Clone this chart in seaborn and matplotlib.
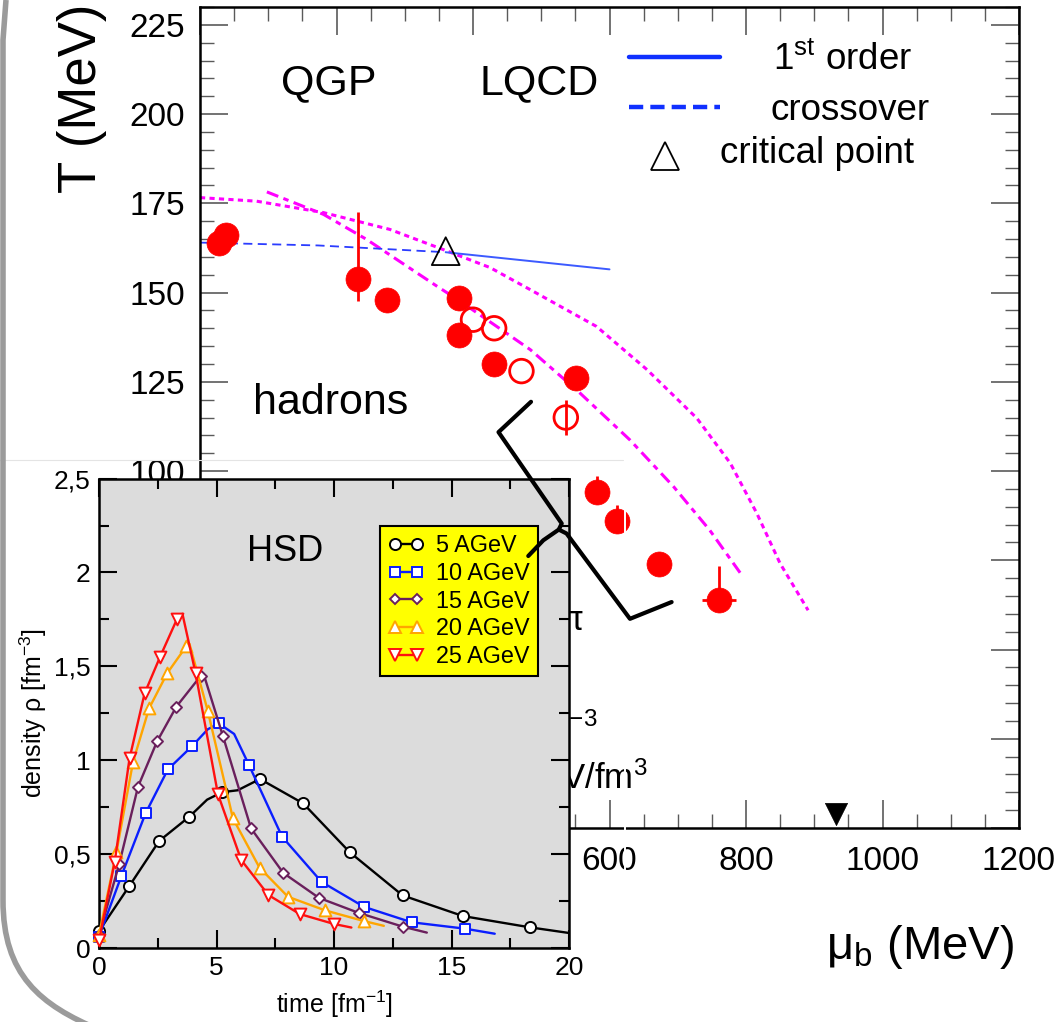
import numpy as np
import pandas as pd
import matplotlib
matplotlib.use("Agg")
import matplotlib.pyplot as plt
import seaborn as sns
from matplotlib.lines import Line2D
from matplotlib.path import Path
from matplotlib.patches import PathPatch
from matplotlib.ticker import MultipleLocator, FixedLocator, FuncFormatter

# ---------------- main phase diagram data ----------------
mu_filled = [28, 38, 231, 274, 380, 380, 431, 551, 581, 611, 672, 761]
T_filled = [164, 166, 153.8, 148, 148.5, 138, 130, 126, 94, 86, 74, 64]
T_filled_err_lo = [0, 0, 6.2, 0, 0, 0, 0, 0, 0, 0, 0, 0]
T_filled_err_hi = [0, 0, 18.7, 0, 0, 0, 0, 0, 4.5, 4.5, 0, 9.4]
mu_filled_err = [0, 0, 0, 0, 0, 0, 0, 0, 0, 0, 0, 25]

mu_open = [400, 431, 471, 536]
T_open = [142.4, 140, 128, 115]
T_open_err = [0, 0, 0, 5]

mu_cp = [360]
T_cp = [161.6]

mu_cross = [0, 173, 360]
T_cross = [164, 163.2, 161.3]
mu_first = [360, 600]
T_first = [161.3, 156.5]

mu_dot = [0, 83, 181, 278, 357, 425, 484, 581, 655, 728, 777, 816, 850, 891]
T_dot = [176.6, 175.6, 172.4, 167.7, 162, 157, 150.8, 140.5, 128.4, 114.8, 102.2, 88.1, 74.1, 61]

mu_dashdot = [98, 181, 244, 303, 347, 381, 484, 557, 630, 694, 747, 794]
T_dashdot = [178.2, 171.9, 164.9, 157.4, 151.8, 147.6, 134, 121.8, 108.7, 95.6, 83.4, 70.8]

mu_nucleon = [932]
T_nucleon = [4]

# ---------------- inset (HSD) data ----------------
labels_hsd = ["5 AGeV", "10 AGeV", "15 AGeV", "20 AGeV", "25 AGeV"]

t5_line = [0, 1.29, 2.56, 3.85, 4.6, 5.24, 5.9, 6.85, 8.69, 10.67, 12.92, 15.49, 18.34, 20]
r5_line = [0.09, 0.33, 0.57, 0.70, 0.79, 0.83, 0.84, 0.90, 0.77, 0.51, 0.28, 0.17, 0.11, 0.08]
t5_mk = [0, 1.29, 2.56, 3.85, 5.24, 6.85, 8.69, 10.67, 12.92, 15.49, 18.34]
r5_mk = [0.09, 0.33, 0.57, 0.70, 0.83, 0.90, 0.77, 0.51, 0.28, 0.17, 0.11]

t10_line = [0, 0.95, 1.98, 2.93, 3.96, 4.63, 5.1, 5.75, 6.38, 7.79, 9.47, 11.28, 13.3, 15.57, 16.84]
r10_line = [0.06, 0.383, 0.717, 0.951, 1.075, 1.165, 1.196, 1.14, 0.975, 0.593, 0.352, 0.219, 0.137, 0.103, 0.076]
t10_mk = [0, 0.95, 1.98, 2.93, 3.96, 5.1, 6.38, 7.79, 9.47, 11.28, 13.3, 15.57]
r10_mk = [0.06, 0.383, 0.717, 0.951, 1.075, 1.196, 0.975, 0.593, 0.352, 0.219, 0.137, 0.103]

t15_line = [0, 0.86, 1.66, 2.47, 3.29, 4.32, 4.45, 5.27, 6.47, 7.84, 9.36, 11.05, 12.92, 13.95]
r15_line = [0.07, 0.447, 0.859, 1.10, 1.285, 1.448, 1.46, 1.13, 0.637, 0.40, 0.267, 0.187, 0.114, 0.082]
t15_mk = [0, 0.86, 1.66, 2.47, 3.29, 4.32, 5.27, 6.47, 7.84, 9.36, 11.05, 12.92]
r15_mk = [0.07, 0.447, 0.859, 1.10, 1.285, 1.448, 1.13, 0.637, 0.40, 0.267, 0.187, 0.114]

t20_line = [0, 0.74, 1.45, 2.13, 2.9, 3.72, 3.85, 4.63, 5.7, 6.83, 8.04, 9.63, 11.29, 12.12]
r20_line = [0.07, 0.51, 0.992, 1.276, 1.463, 1.608, 1.62, 1.262, 0.69, 0.428, 0.273, 0.20, 0.143, 0.118]
t20_mk = [0, 0.74, 1.45, 2.13, 2.9, 3.72, 4.63, 5.7, 6.83, 8.04, 9.63, 11.29]
r20_mk = [0.07, 0.51, 0.992, 1.276, 1.463, 1.608, 1.262, 0.69, 0.428, 0.273, 0.20, 0.143]

t25_line = [0, 0.67, 1.30, 1.94, 2.6, 3.32, 3.55, 4.11, 5.06, 6.05, 7.21, 8.54, 10.0, 10.74]
r25_line = [0.04, 0.46, 1.01, 1.356, 1.551, 1.752, 1.78, 1.463, 0.82, 0.469, 0.282, 0.181, 0.128, 0.109]
t25_mk = [0, 0.67, 1.30, 1.94, 2.6, 3.32, 4.11, 5.06, 6.05, 7.21, 8.54, 10.0]
r25_mk = [0.04, 0.46, 1.01, 1.356, 1.551, 1.752, 1.463, 0.82, 0.469, 0.282, 0.181, 0.128]

# ---------------- style ----------------
sns.set_theme(style="ticks")
plt.rcParams['font.family'] = ['Liberation Sans', 'DejaVu Sans']
plt.rcParams['mathtext.fontset'] = 'custom'
plt.rcParams['mathtext.rm'] = 'Liberation Sans'
plt.rcParams['mathtext.it'] = 'Liberation Sans:italic'
plt.rcParams['mathtext.bf'] = 'Liberation Sans:bold'
plt.rcParams['text.color'] = 'black'
plt.rcParams['axes.labelcolor'] = 'black'
plt.rcParams['xtick.labelcolor'] = 'black'
plt.rcParams['ytick.labelcolor'] = 'black'

W, H = 1062, 1022
fig = plt.figure(figsize=(W / 100, H / 100), dpi=100)
fig.patch.set_facecolor('white')


def fx(px):
    return px / W


def fy(py):
    return 1 - py / H


# ---------------- main axes ----------------
ax = fig.add_axes([fx(200), fy(828), fx(1019) - fx(200), fy(7) - fy(828)])
ax.set_facecolor('white')

sns.lineplot(x=mu_dot, y=T_dot, ax=ax, color='#ff00ff', lw=2.2,
             linestyle=(0, (1.7, 1.4)), sort=False, estimator=None, zorder=2)
sns.lineplot(x=mu_dashdot, y=T_dashdot, ax=ax, color='#ff00ff', lw=2.2,
             linestyle=(0, (4, 1.8, 1.8, 1.8)), sort=False, estimator=None, zorder=2)
sns.lineplot(x=mu_cross, y=T_cross, ax=ax, color='#2b3cff', lw=1.3,
             linestyle=(0, (5, 3)), sort=False, estimator=None, zorder=2)
sns.lineplot(x=mu_first, y=T_first, ax=ax, color='#3c5aff', lw=1.4,
             sort=False, estimator=None, zorder=2)

ax.errorbar(mu_filled, T_filled, yerr=[T_filled_err_lo, T_filled_err_hi],
            xerr=mu_filled_err, fmt='none', ecolor='#ff0000', elinewidth=2,
            capsize=0, zorder=3)
ax.errorbar(mu_open, T_open, yerr=T_open_err, fmt='none', ecolor='#ff0000',
            elinewidth=2, capsize=0, zorder=3)
sns.scatterplot(x=mu_filled, y=T_filled, ax=ax, marker='o', s=18 ** 2,
                color='#ff0000', edgecolor='#ff0000', linewidth=0.5, zorder=4)
sns.scatterplot(x=mu_open, y=T_open, ax=ax, marker='o', s=17 ** 2,
                facecolor='none', edgecolor='#ff0000', linewidth=2, zorder=4)
sns.scatterplot(x=mu_cp, y=T_cp, ax=ax, marker='^', s=20 ** 2,
                facecolor='none', edgecolor='black', linewidth=1.3, zorder=5)
sns.scatterplot(x=mu_nucleon, y=T_nucleon, ax=ax, marker='v', s=16 ** 2,
                color='black', edgecolor='black', linewidth=0.5, zorder=5,
                clip_on=False)

ax.set_xlim(0, 1200)
ax.set_ylim(0, 230)
ax.xaxis.set_major_locator(MultipleLocator(200))
ax.xaxis.set_minor_locator(MultipleLocator(50))
ax.yaxis.set_major_locator(MultipleLocator(25))
ax.yaxis.set_minor_locator(MultipleLocator(5))
ax.tick_params(which='major', direction='in', length=20, width=1.2,
               color='#5a5a5a', top=True, right=True, labelsize=24)
ax.tick_params(which='minor', direction='in', length=10, width=1.0,
               color='#5a5a5a', top=True, right=True)
ax.tick_params(axis='x', which='major', pad=13)
ax.tick_params(axis='y', which='major', pad=11)
for sp in ax.spines.values():
    sp.set_linewidth(1.8)
    sp.set_color('black')

ax.set_ylabel('T (MeV)', fontsize=38)
ax.yaxis.label.set_va('center')
ax.yaxis.set_label_coords(-0.144, 0.889)
ax.set_xlabel('μ$_{\\mathrm{b}}$ (MeV)', fontsize=34)
ax.xaxis.label.set_va('center')
ax.xaxis.set_label_coords(0.879, -0.145)

# region labels
ax.text(0.1575, 0.9074, 'QGP', transform=ax.transAxes, fontsize=31,
        ha='center', va='center')
ax.text(0.414, 0.9074, 'LQCD', transform=ax.transAxes, fontsize=31,
        ha='center', va='center')
ax.text(0.160, 0.5177, 'hadrons', transform=ax.transAxes, fontsize=31,
        ha='center', va='center')

# hand-made legend of the main plot
ax.add_line(Line2D([0.524, 0.635], [0.939, 0.939], transform=ax.transAxes,
                   color='#1030ff', lw=3.2))
ax.add_line(Line2D([0.524, 0.635], [0.878, 0.878], transform=ax.transAxes,
                   color='#1030ff', lw=3.2, linestyle=(0, (3.2, 1.6))))
ax.add_line(Line2D([0.568], [0.8185], transform=ax.transAxes, marker='^',
                   ms=20, mfc='none', mec='black', mew=1.3, ls='none'))
ax.text(0.6996, 0.923, '1$^{\\mathrm{st}}$ order', transform=ax.transAxes,
        fontsize=26.5, ha='left', va='baseline')
ax.text(0.696, 0.8624, 'crossover', transform=ax.transAxes,
        fontsize=26.5, ha='left', va='baseline')
ax.text(0.6355, 0.810, 'critical point', transform=ax.transAxes,
        fontsize=26.5, ha='left', va='baseline')

# fragments of annotations hidden behind the inset
ax.text(527, 58, 'π', fontsize=25, ha='left', va='center', zorder=1)
ax.text(582, 24.7, 'fm$^{-3}$', fontsize=25, ha='right', va='baseline', zorder=1)
ax.text(655, 11, 'GeV/fm$^{3}$', fontsize=25, ha='right', va='baseline', zorder=1)

# ---------------- inset axes ----------------
axi = fig.add_axes([fx(99), fy(948), fx(569) - fx(99), fy(478.6) - fy(948)])
axi.set_zorder(5)
axi.set_facecolor('#dcdcdc')

series = [
    (labels_hsd[0], 'black', 'o', 8.0, t5_line, r5_line, t5_mk, r5_mk),
    (labels_hsd[1], '#0a1eff', 's', 6.8, t10_line, r10_line, t10_mk, r10_mk),
    (labels_hsd[2], '#6a1f5c', 'D', 5.6, t15_line, r15_line, t15_mk, r15_mk),
    (labels_hsd[3], '#ffa500', '^', 8.5, t20_line, r20_line, t20_mk, r20_mk),
    (labels_hsd[4], '#ff1010', 'v', 8.5, t25_line, r25_line, t25_mk, r25_mk),
]
handles = []
for i, (lab, col, mk, ms, tl, rl, tm, rm) in enumerate(series):
    sns.lineplot(x=tl, y=rl, ax=axi, color=col, lw=1.7, sort=False,
                 estimator=None, zorder=2 + 2 * i)
    sns.scatterplot(x=tm, y=rm, ax=axi, marker=mk, s=ms ** 2,
                    facecolor='white', edgecolor=col, linewidth=1.4,
                    zorder=3 + 2 * i, clip_on=False)
    handles.append(Line2D([], [], color=col, lw=1.7, marker=mk, ms=ms,
                          mfc='white', mec=col, mew=1.4))

axi.set_xlim(0, 20)
axi.set_ylim(0, 2.5)
axi.xaxis.set_major_locator(MultipleLocator(5))
axi.xaxis.set_minor_locator(MultipleLocator(2.5))
axi.yaxis.set_major_locator(FixedLocator([0, 0.5, 1, 1.5, 2, 2.5]))
axi.yaxis.set_minor_locator(FixedLocator([0.25, 0.75, 1.25, 1.75, 2.25]))
axi.yaxis.set_major_formatter(FuncFormatter(lambda v, p: f"{v:g}".replace('.', ',')))
axi.tick_params(which='major', direction='in', length=13, width=1.5,
                color='black', top=True, right=True, labelsize=19, pad=6)
axi.tick_params(which='minor', direction='in', length=7, width=1.5,
                color='black', top=True, right=True)
for sp in axi.spines.values():
    sp.set_linewidth(1.8)
    sp.set_color('black')

axi.set_ylabel('density ρ [fm$^{-3}$]', fontsize=18)
axi.yaxis.label.set_va('center')
axi.yaxis.set_label_coords(-0.14, 0.5)
axi.set_xlabel('time [fm$^{-1}$]', fontsize=18)
axi.xaxis.label.set_va('center')
axi.xaxis.set_label_coords(0.5, -0.121)

axi.text(7.92, 2.114, 'HSD', fontsize=26, ha='center', va='center')

leg = axi.legend(handles, labels_hsd, loc='upper left',
                 bbox_to_anchor=(0.597, 0.899), borderaxespad=0,
                 fontsize=16.8, numpoints=2, handlelength=1.55,
                 handletextpad=0.5, labelspacing=0.2, borderpad=0.35,
                 frameon=True, fancybox=False, framealpha=1)
leg.get_frame().set_facecolor('#ffff00')
leg.get_frame().set_edgecolor('black')
leg.get_frame().set_linewidth(1.5)

# ---------------- edge of the pasted inset picture ----------------
fig.add_artist(Line2D([fx(0), fx(623)], [fy(460), fy(460)], transform=fig.transFigure,
                      color='#e4e4e4', lw=0.8, zorder=3))
fig.add_artist(Line2D([fx(625), fx(625)], [fy(462), fy(1022)], transform=fig.transFigure,
                      color='white', lw=1.4, zorder=3))

# ---------------- curly bracket drawn over everything ----------------
brace_mu = [485, 437.4, 530, 525.7, 503, 481]
brace_T = [119.4, 110.9, 85.3, 83.6, 80.6, 76.2]
fig.add_artist(Line2D(brace_mu, brace_T, transform=ax.transData, color='black',
                      lw=3.0, solid_joinstyle='round', solid_capstyle='round',
                      zorder=30))
fig.add_artist(Line2D([525.7, 537.1, 630, 691], [83.6, 82.5, 58.6, 63.3],
                      transform=ax.transData, color='black', lw=3.0,
                      solid_joinstyle='round', solid_capstyle='round', zorder=30))

# ---------------- slide frame on the left ----------------
frame_px = [(6, 0), (3, 40), (3, 900), (3, 975), (40, 1005), (100, 1030)]
codes = [Path.MOVETO, Path.LINETO, Path.LINETO, Path.CURVE4, Path.CURVE4, Path.CURVE4]
frame_path = Path([(fx(x), fy(y)) for x, y in frame_px], codes)
fig.add_artist(PathPatch(frame_path, transform=fig.transFigure, fill=False,
                         lw=4.0, ec='#9b9b9b', zorder=40))

fig.savefig('out.png', dpi=100, facecolor='white')
